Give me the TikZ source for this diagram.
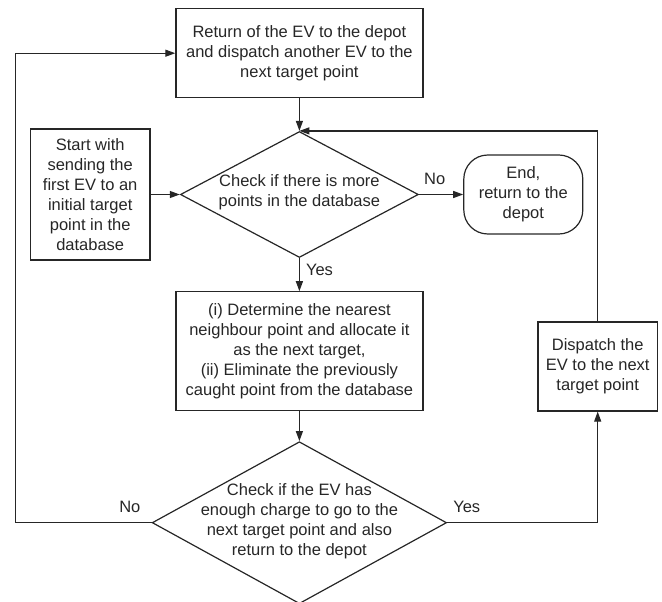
\documentclass[tikz,border=0pt]{standalone}
\usepackage{fontspec}
\setmainfont{Liberation Sans}
\usetikzlibrary{shapes.geometric,arrows.meta}
\tikzset{
  every node/.style={font=\fontsize{16.5pt}{20pt}\selectfont, text=black!85},
  box/.style={draw=black!85, line width=1.2pt, align=center, inner sep=0pt},
  decision/.style={draw=black!85, diamond, line width=1.2pt, inner sep=0pt},
  terminal/.style={draw=black!85, rounded corners=24pt, line width=1.2pt, align=center, inner sep=0pt},
  txt/.style={align=center, inner sep=0pt},
  lbl/.style={inner sep=2pt},
  flow/.style={draw=black!85, line width=1.2pt, -{Triangle[length=10pt,width=7pt]}}
}
\begin{document}
\begin{tikzpicture}[x=1pt,y=-1pt]
        %BOUNDS
        \useasboundingbox (0,0) rectangle (662,602);
        \clip (0,0) rectangle (662,602);
        %RETURN
        \node[box, minimum width=247pt, minimum height=89pt] (ret) at (299.4,53.2) {Return of the EV to the depot\\and dispatch another EV to the\\next target point};
        %START
        \node[box, minimum width=119.6pt, minimum height=131pt] (start) at (90.2,194.5) {Start with\\sending the\\first EV to an\\initial target\\point in the\\database};
        %CHECK POINTS
        \node[decision, minimum width=238pt, minimum height=126pt] (chkpts) at (299.4,194.5) {};
        \node[txt] (chkptstxt) at (299.4,192.5) {Check if there is more\\points in the database};
        %END
        \node[terminal, minimum width=119pt, minimum height=79pt] (finish) at (523.3,194.5) {End,\\return to the\\depot};
        %DETERMINE
        \node[box, minimum width=247pt, minimum height=119pt] (nearest) at (299.4,351.3) {(i) Determine the nearest\\neighbour point and allocate it\\as the next target,\\(ii) Eliminate the previously\\caught point from the database};
        %DISPATCH
        \node[box, minimum width=119.5pt, minimum height=89pt] (dispatch) at (597.7,366.5) {Dispatch the\\EV to the next\\target point};
        %CHECK CHARGE
        \node[decision, minimum width=294.4pt, minimum height=162pt] (chkcharge) at (299.4,522.7) {};
        \node[txt] (chkchargetxt) at (299.4,521) {Check if the EV has\\enough charge to go to the\\next target point and also\\return to the depot};
        %LANE
        \coordinate (lane) at (15.6,0);
        %FLOWS
        \draw[flow] (ret) -- (chkpts);
        \draw[flow] (start) -- (chkpts);
        \draw[flow] (chkpts) -- node[lbl, above=7pt, pos=0.355] {No} (finish);
        \draw[flow] (chkpts) -- node[lbl, right=4pt, pos=0.36] {Yes} (nearest);
        \draw[flow] (nearest) -- (chkcharge);
        \draw[flow] (chkcharge.east) -- node[lbl, above=7pt, pos=0.13] {Yes} (dispatch.south |- chkcharge.east) -- (dispatch.south);
        \draw[flow] (dispatch.north) -- (dispatch.north |- chkpts.north) -- (chkpts.north);
        \draw[flow] (chkcharge.west) -- node[lbl, above=7pt, pos=0.16] {No} (lane |- chkcharge.west) -- (lane |- ret.west) -- (ret.west);
    \end{tikzpicture}
\end{document}
